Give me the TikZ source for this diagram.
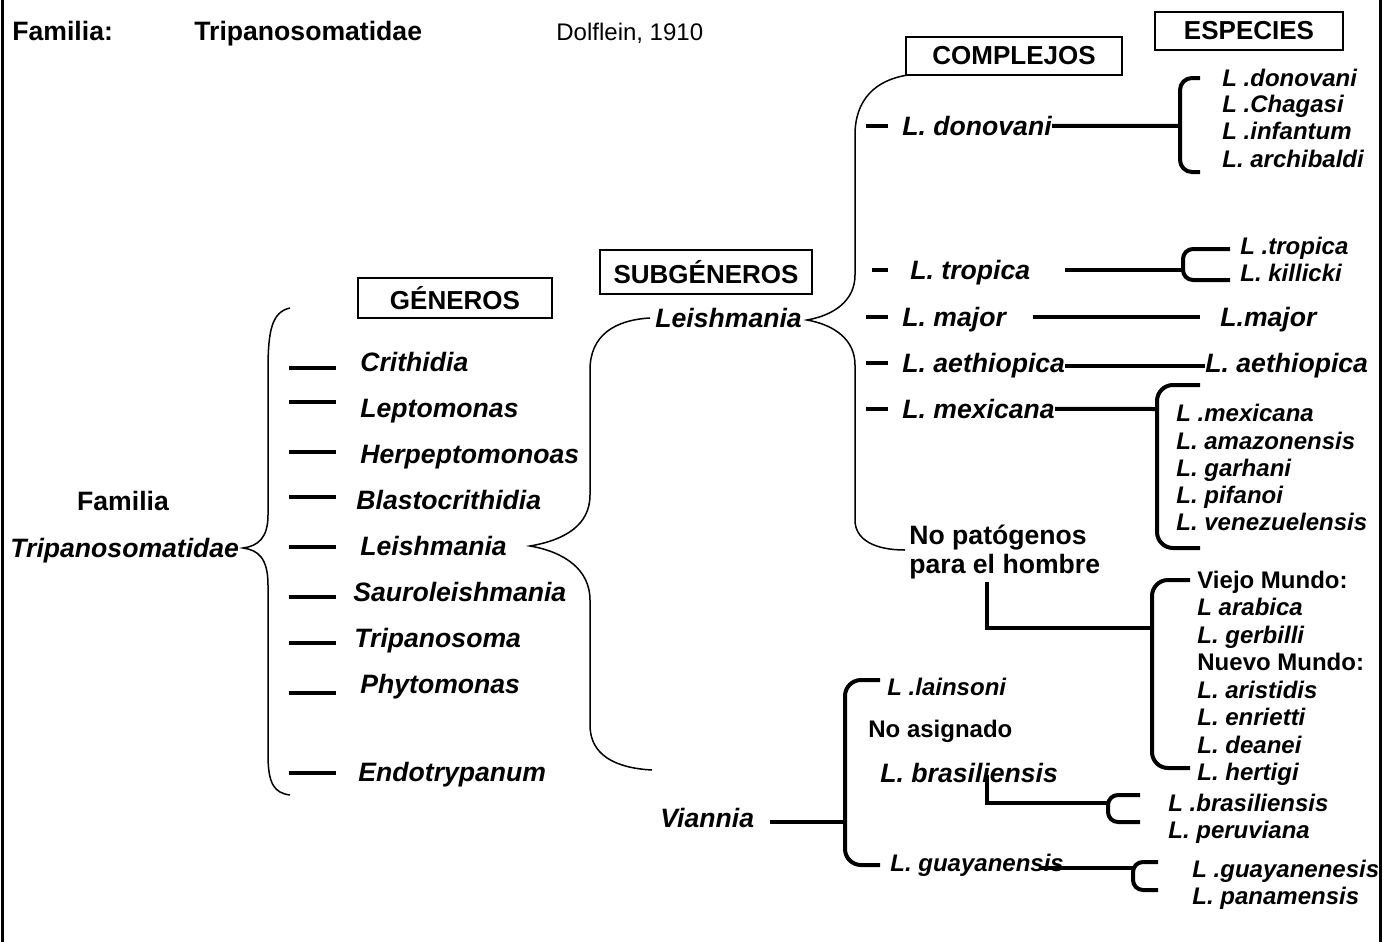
\documentclass[tikz,border=0pt]{standalone}
\usepackage{fontspec}
\setmainfont{Liberation Sans}
\usetikzlibrary{positioning}

\begin{document}
\begin{tikzpicture}[x=0.5pt,y=-0.5pt,
  gen/.style={anchor=base west,yshift=-4.7pt,inner sep=0pt,font=\fontsize{13.3}{15}\selectfont\bfseries\itshape},
  spc/.style={anchor=base west,yshift=-4.3pt,inner sep=0pt,font=\fontsize{12}{14}\selectfont\bfseries\itshape},
  lbl/.style={anchor=base west,yshift=-4.3pt,inner sep=0pt,font=\fontsize{12}{14}\selectfont\bfseries},
  hdr/.style={anchor=base west,yshift=-4.7pt,inner sep=0pt,font=\fontsize{13.3}{15}\selectfont\bfseries},
  hbox/.style={draw,line width=0.7pt,font=\fontsize{13}{15}\selectfont\bfseries,minimum height=20pt},
  bk/.style={line width=2pt},
  brc/.style={line width=0.75pt}]
\useasboundingbox (0,0) rectangle (1392,942);
% frame
\draw[line width=1.5pt] (2,0)--(2,942) (1380,0)--(1380,942);
% heading
\node[hdr] (famhd) at (12,31) {Familia:};
\node[hdr] (famnm) at (194,31) {Tripanosomatidae};
\node[hdr,font=\fontsize{12}{14}\selectfont] (author) at (556,31) {Dolflein, 1910};
% boxes
\node[hbox,minimum width=97pt] (bgen) at (455,298) {GÉNEROS};
\node[hbox,minimum width=106pt,minimum height=22pt] (bsub) at (706,272) {SUBGÉNEROS};
\node[hbox,minimum width=108pt,minimum height=19pt] (bcom) at (1014,56) {COMPLEJOS};
\node[hbox,minimum width=94pt,minimum height=19pt] (besp) at (1249,31) {ESPECIES};
% familia
\node[font=\fontsize{13.3}{15}\selectfont\bfseries,inner sep=0pt] (famw) at (123,501) {Familia};
\node[gen] (famlat) at (10,548) {Tripanosomatidae};
\draw[brc] (290,308) .. controls (272,312) and (268,330) .. (268,370) -- (268,515)
  .. controls (268,538) and (258,546) .. (243,548)
  .. controls (258,550) and (268,558) .. (268,585) -- (268,755)
  .. controls (268,785) and (275,793) .. (290,795);
% generos
\node[gen] (crit) at (360,362) {Crithidia};
\node[gen] (lept) at (360,408) {Leptomonas};
\node[gen] (herp) at (360,454) {Herpeptomonoas};
\node[gen] (blas) at (356,500) {Blastocrithidia};
\node[gen] (leis) at (360,546) {Leishmania};
\node[gen] (saur) at (353,592) {Sauroleishmania};
\node[gen] (trip) at (354,638) {Tripanosoma};
\node[gen] (phyt) at (360,684) {Phytomonas};
\node[gen] (endo) at (358,772) {Endotrypanum};
\draw[bk] (289,368)--(336,368) (289,402)--(336,402) (289,452)--(336,452)
  (289,497)--(336,497) (289,547)--(336,547) (289,597)--(336,597)
  (289,643)--(336,643) (289,693)--(336,693) (289,773)--(336,773);
% subgeneros
\node[gen] (lsub) at (655,318) {Leishmania};
\node[gen] (vian) at (660,818) {Viannia};
\draw[brc] (650,318) .. controls (615,320) and (590,335) .. (590,370) -- (590,495)
  .. controls (590,525) and (565,540) .. (530,546)
  .. controls (565,552) and (590,570) .. (590,600) -- (590,725)
  .. controls (590,755) and (615,768) .. (652,770);
% complejos (Leishmania)
\draw[brc] (908,75) .. controls (875,80) and (855,100) .. (855,135) -- (855,275)
  .. controls (855,300) and (835,315) .. (807,320)
  .. controls (835,325) and (855,340) .. (855,365) -- (855,520)
  .. controls (855,540) and (875,550) .. (905,550);
\node[gen] (cdon) at (902,126) {L. donovani};
\node[gen] (ctro) at (910,270) {L. tropica};
\node[gen] (cmaj) at (902,317) {L. major};
\node[gen] (caet) at (902,363) {L. aethiopica};
\node[gen] (cmex) at (902,409) {L. mexicana};
\node[hdr] (npat1) at (909,535) {No patógenos};
\node[hdr] (npat2) at (909,564) {para el hombre};
\draw[bk] (866,126)--(888,126) (872,270)--(888,270) (866,317)--(888,317)
  (866,363)--(888,363) (866,409)--(888,409);
% especies
\node[spc] (sdon1) at (1222,78) {L .donovani};
\node[spc] (sdon2) at (1222,104) {L .Chagasi};
\node[spc] (sdon3) at (1222,131) {L .infantum};
\node[spc] (sdon4) at (1222,159) {L. archibaldi};
\coordinate (kdon) at (1180,126);
\draw[bk] (cdon.east) -- (kdon);
\draw[bk,rounded corners=6pt] (1200,78) -- (1180,78) -- (1180,172) -- (1200,172);
\node[spc] (stro1) at (1240,246) {L .tropica};
\node[spc] (stro2) at (1240,273) {L. killicki};
\coordinate (ttro) at (1065,270);
\coordinate (ktro) at (1183,270);
\draw[bk] (ttro) -- (ktro);
\draw[bk,rounded corners=5pt] (1230,249) -- (1183,249) -- (1183,280) -- (1230,280);
\node[gen] (smaj) at (1220,317) {L.major};
\coordinate (tmaj) at (1033,317);
\draw[bk] (tmaj) -- (1200,317);
\node[gen] (saet) at (1205,363) {L. aethiopica};
\draw[bk] (caet.east) -- (saet.west);
\node[spc] (smex1) at (1176,413) {L .mexicana};
\node[spc] (smex2) at (1176,441) {L. amazonensis};
\node[spc] (smex3) at (1176,468) {L. garhani};
\node[spc] (smex4) at (1176,495) {L. pifanoi};
\node[spc] (smex5) at (1176,522) {L. venezuelensis};
\coordinate (kmex) at (1157,409);
\draw[bk] (cmex.east) -- (kmex);
\draw[bk,rounded corners=8pt] (1200,385) -- (1157,385) -- (1157,548) -- (1200,548);
% no patogenos
\node[lbl] (snp1) at (1197,580) {Viejo Mundo:};
\node[spc] (snp2) at (1197,607) {L arabica};
\node[spc] (snp3) at (1197,635) {L. gerbilli};
\node[lbl] (snp4) at (1197,662) {Nuevo Mundo:};
\node[spc] (snp5) at (1197,690) {L. aristidis};
\node[spc] (snp6) at (1197,717) {L. enrietti};
\node[spc] (snp7) at (1197,745) {L. deanei};
\node[spc] (snp8) at (1197,772) {L. hertigi};
\coordinate (npft) at (987,582);
\coordinate (knp) at (1152,628);
\draw[bk] (npft) |- (knp);
\draw[bk,rounded corners=8pt] (1190,580) -- (1152,580) -- (1152,768) -- (1190,768);
% Viannia
\coordinate (kvia) at (845,822);
\draw[bk] (770,822) -- (kvia);
\draw[bk,rounded corners=8pt] (880,680) -- (845,680) -- (845,865) -- (880,865);
\node[spc] (vlai) at (887,687) {L .lainsoni};
\node[lbl] (vnoa) at (868,729) {No asignado};
\node[gen] (vbra) at (880,773) {L. brasiliensis};
\node[spc] (vguy) at (890,863) {L. guayanensis};
\node[spc] (sbra1) at (1168,803) {L .brasiliensis};
\node[spc] (sbra2) at (1168,830) {L. peruviana};
\coordinate (braft) at (987,775);
\coordinate (kbra) at (1108,803);
\draw[bk] (braft) |- (kbra);
\draw[bk,rounded corners=5pt] (1140,795) -- (1108,795) -- (1108,822) -- (1140,822);
\node[spc] (sguy1) at (1192,869) {L .guayanenesis};
\node[spc] (sguy2) at (1192,896) {L. panamensis};
\coordinate (kguy) at (1133,868);
\draw[bk] (1040,868) -- (kguy);
\draw[bk,rounded corners=5pt] (1158,862) -- (1133,862) -- (1133,890) -- (1158,890);
\end{tikzpicture}
\end{document}
